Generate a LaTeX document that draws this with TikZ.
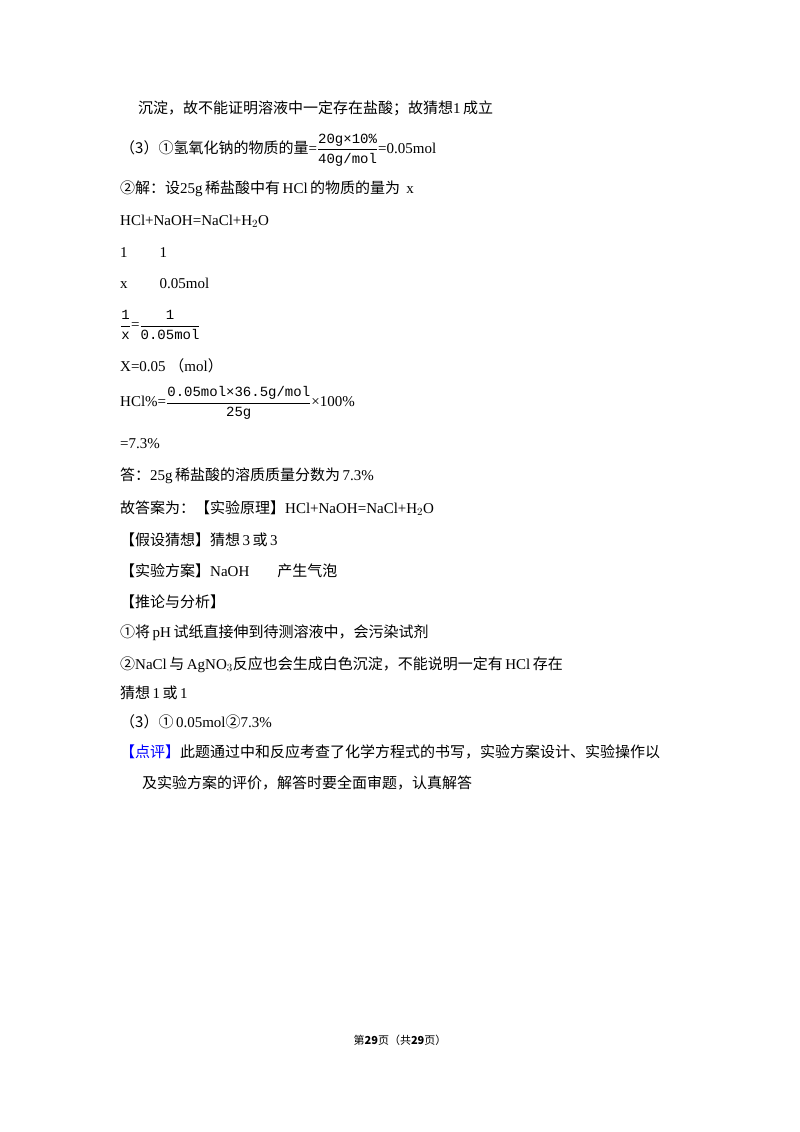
\documentclass[tikz,border=0pt]{standalone}
\usepackage{fontspec}
\setmainfont{Liberation Serif}
\newfontfamily\zhfont{Noto Sans CJK SC}
\newfontfamily\monofont{Liberation Mono}
\newcommand{\zh}[1]{{\zhfont #1}}
\newcommand{\fr}[2]{$\displaystyle\frac{\hbox{\monofont\fontsize{14}{16}\selectfont #1}}{\hbox{\monofont\fontsize{14}{16}\selectfont #2}}$}
\usetikzlibrary{positioning}
\tikzset{
  line/.style = {anchor=west, inner sep=0pt, font=\fontsize{15}{18}\selectfont},
}
\begin{document}
\begin{tikzpicture}[x=1pt,y=-1pt]
\useasboundingbox (0,0) rectangle (800,1132);
\node [line] (l1) at (138,108) {\zh{沉淀，故不能证明溶液中一定存在盐酸；故猜想}1\,\zh{成立}};
\node [line] (l2) at (120,150) {\zh{（3）①氢氧化钠的物质的量}=\fr{20g×10\%}{40g/mol}=0.05mol};
\node [line] (l3) at (120,189) {\zh{②解：设}25g\,\zh{稀盐酸中有}\,HCl\,\zh{的物质的量为}\, x};
\node [line] (l4) at (120,221) {HCl+NaOH=NaCl+H$_2$O};
\node [line] (l5) at (120,253) {1\hspace{32pt}1};
\node [line] (l6) at (120,283) {x\hspace{32pt}0.05mol};
\node [line] (l7) at (120,325) {\fr{1}{x}=\fr{1}{0.05mol}};
\node [line] (l8) at (120,366) {X=0.05 \zh{（}mol\zh{）}};
\node [line] (l9) at (120,403) {HCl\%=\fr{0.05mol×36.5g/mol}{25g}×100\%};
\node [line] (l10) at (120,444) {=7.3\%};
\node [line] (l11) at (120,476) {\zh{答：}25g\,\zh{稀盐酸的溶质质量分数为}\,7.3\%};
\node [line] (l12) at (120,508) {\zh{故答案为：【实验原理】}HCl+NaOH=NaCl+H$_2$O};
\node [line] (l13) at (120,540) {\zh{【假设猜想】猜想}\,3\,\zh{或}\,3};
\node [line] (l14) at (120,571) {\zh{【实验方案】}NaOH\hspace{28pt}\zh{产生气泡}};
\node [line] (l15) at (120,602) {\zh{【推论与分析】}};
\node [line] (l16) at (120,633) {\zh{①将}\,pH\,\zh{试纸直接伸到待测溶液中，会污染试剂}};
\node [line] (l17) at (120,665) {\zh{②}NaCl\,\zh{与}\,AgNO$_3$\zh{反应也会生成白色沉淀，不能说明一定有}\,HCl\,\zh{存在}};
\node [line] (l18) at (120,693) {\zh{猜想}\,1\,\zh{或}\,1};
\node [line] (l19) at (120,722) {\zh{（3）①}\,0.05mol\zh{②}7.3\%};
\node [line] (l20) at (120,752) {\zh{\textcolor{blue}{【点评】}此题通过中和反应考查了化学方程式的书写，实验方案设计、实验操作以}};
\node [line] (l21) at (142,783) {\zh{及实验方案的评价，解答时要全面审题，认真解答}};
\node [inner sep=0pt, font=\zhfont\fontsize{11}{13}\selectfont] (foot) at (400,1040) {第\textbf{29}页（共\textbf{29}页）};
\end{tikzpicture}
\end{document}
